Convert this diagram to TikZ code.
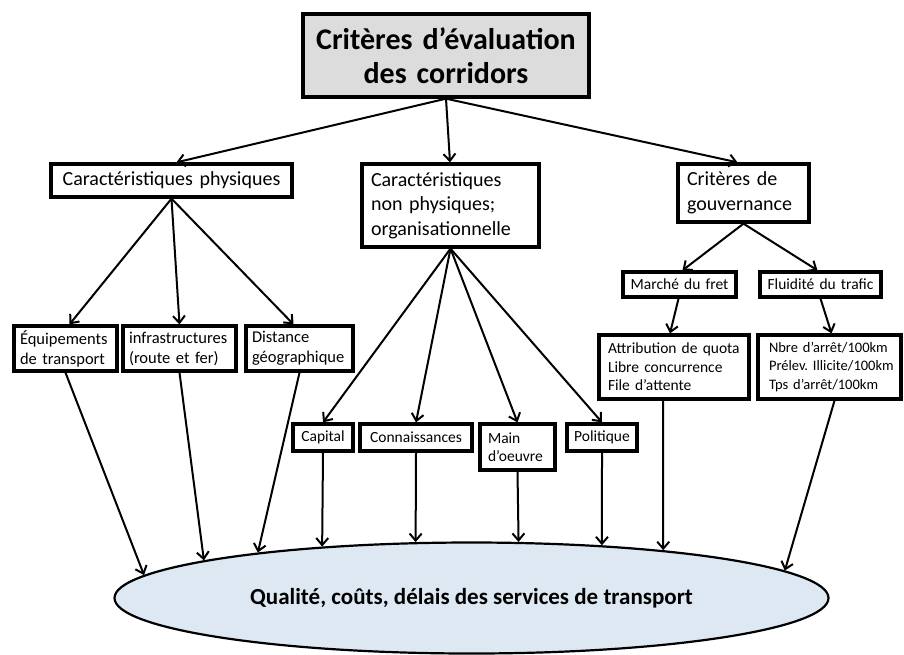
\documentclass[tikz,border=0pt]{standalone}
\usepackage{fontspec}
\setmainfont{Carlito}
\usetikzlibrary{arrows.meta,shapes.geometric}
\definecolor{titlegray}{HTML}{DCDCDC}
\definecolor{ellblue}{HTML}{DDE8F3}
\begin{document}
\frenchspacing
\begin{tikzpicture}[x=1pt,y=-1pt,
  bigbox/.style={draw, line width=3.3pt, inner sep=0pt, font=\fontsize{20}{24.5}\selectfont},
  midbox/.style={draw, line width=3.3pt, inner sep=0pt, font=\fontsize{16.5}{20}\selectfont},
  smallbox/.style={draw, line width=3.3pt, inner sep=0pt, font=\fontsize{15.5}{18.5}\selectfont},
  arr/.style={line width=2pt, -{Straight Barb[length=7pt,width=12pt]}}]
\useasboundingbox (0,0) rectangle (904,654);

\node[bigbox, fill=titlegray, minimum width=286, minimum height=83, text width=280, align=center, font=\bfseries\fontsize{30}{34}\selectfont] (title) at (446,55.5) {Critères d’évaluation\\des corridors};

\node[bigbox, minimum width=241, minimum height=33, text width=235, align=center] (phys) at (171.5,180.5) {Caractéristiques physiques};
\node[bigbox, minimum width=177, minimum height=83, text width=159, align=left] (nonphys) at (450.5,205.5) {\mbox{Caractéristiques}\\\mbox{non physiques;}\\\mbox{organisationnelle}};
\node[bigbox, minimum width=131, minimum height=58, text width=113, align=left] (gouv) at (743.5,193) {\mbox{Critères de}\\\mbox{gouvernance}};

\node[smallbox, minimum width=113, minimum height=25, text width=111, align=center] (marche) at (679.5,284.5) {Marché du fret};
\node[smallbox, minimum width=121, minimum height=25, text width=119, align=center] (fluid) at (820.5,284.5) {Fluidité du trafic};

\node[midbox, minimum width=103, minimum height=45, text width=91, align=left] (equip) at (65.5,348.5) {\mbox{Équipements}\\\mbox{de transport}};
\node[midbox, minimum width=113, minimum height=45, text width=101, align=left] (infra) at (179.5,348.5) {\mbox{infrastructures}\\\mbox{(route et fer)}};
\node[midbox, minimum width=107, minimum height=45, text width=95, align=left] (dist) at (299.5,348.5) {\mbox{Distance}\\\mbox{géographique}};

\node[smallbox, minimum width=60, minimum height=27, text width=58, align=center] (capital) at (323,437.5) {Capital};
\node[smallbox, minimum width=112, minimum height=27, text width=110, align=center] (conn) at (416,437.5) {Connaissances};
\node[smallbox, minimum width=75, minimum height=46, text width=59, align=left] (main) at (517.5,447) {\mbox{Main}\\\mbox{d’oeuvre}};
\node[smallbox, minimum width=70, minimum height=27, text width=68, align=center] (polit) at (602,437.5) {Politique};

\node[smallbox, minimum width=150, minimum height=64, text width=132, align=left] (attrib) at (674,367) {\mbox{Attribution de quota}\\\mbox{Libre concurrence}\\\mbox{File d’attente}};
\node[smallbox, minimum width=143, minimum height=64, text width=121, align=left, font=\fontsize{14.5}{18.5}\selectfont] (nbre) at (829.5,367) {\mbox{Nbre d’arrêt/100km}\\\mbox{Prélev. Illicite/100km}\\\mbox{Tps d’arrêt/100km}};

\node[ellipse, draw, line width=2.2pt, fill=ellblue, minimum width=714, minimum height=111, inner sep=0pt, font=\bfseries\fontsize{23}{27}\selectfont] (res) at (471.5,598) {Qualité, coûts, délais des services de transport};

\draw[arr] (title.south) -- ([xshift=5pt]phys.north);
\draw[arr] (title.south) -- ([xshift=-0.5pt]nonphys.north);
\draw[arr] (title.south) -- ([xshift=-6pt]gouv.north);

\draw[arr] (phys.south) -- ([xshift=4pt]equip.north);
\draw[arr] (phys.south) -- (infra.north);
\draw[arr] (phys.south) -- ([xshift=-6pt]dist.north);

\draw[arr] (nonphys.south) -- (capital.north);
\draw[arr] (nonphys.south) -- (conn.north);
\draw[arr] (nonphys.south) -- (main.north);
\draw[arr] (nonphys.south) -- (polit.north);

\draw[arr] (gouv.south) -- ([xshift=3pt]marche.north);
\draw[arr] (gouv.south) -- ([xshift=-3pt]fluid.north);
\draw[arr] ([xshift=-1pt]marche.south) -- ([xshift=-4pt]attrib.north);
\draw[arr] (fluid.south) -- ([xshift=2pt]nbre.north);

\draw[arr] (equip.south) -- (res.176.85);
\draw[arr] (infra.south) -- (res.172.24);
\draw[arr] (dist.south) -- (res.168.96);
\draw[arr] (capital.south) -- (res.161.37);
\draw[arr] (conn.south) -- (res.135.36);
\draw[arr] (main.south) -- (res.50.4);
\draw[arr] (polit.south) -- (res.22.67);
\draw[arr] ([xshift=-11pt]attrib.south) -- (res.14.97);
\draw[arr] ([xshift=5pt]nbre.south) -- (res.5.17);
\end{tikzpicture}
\end{document}
